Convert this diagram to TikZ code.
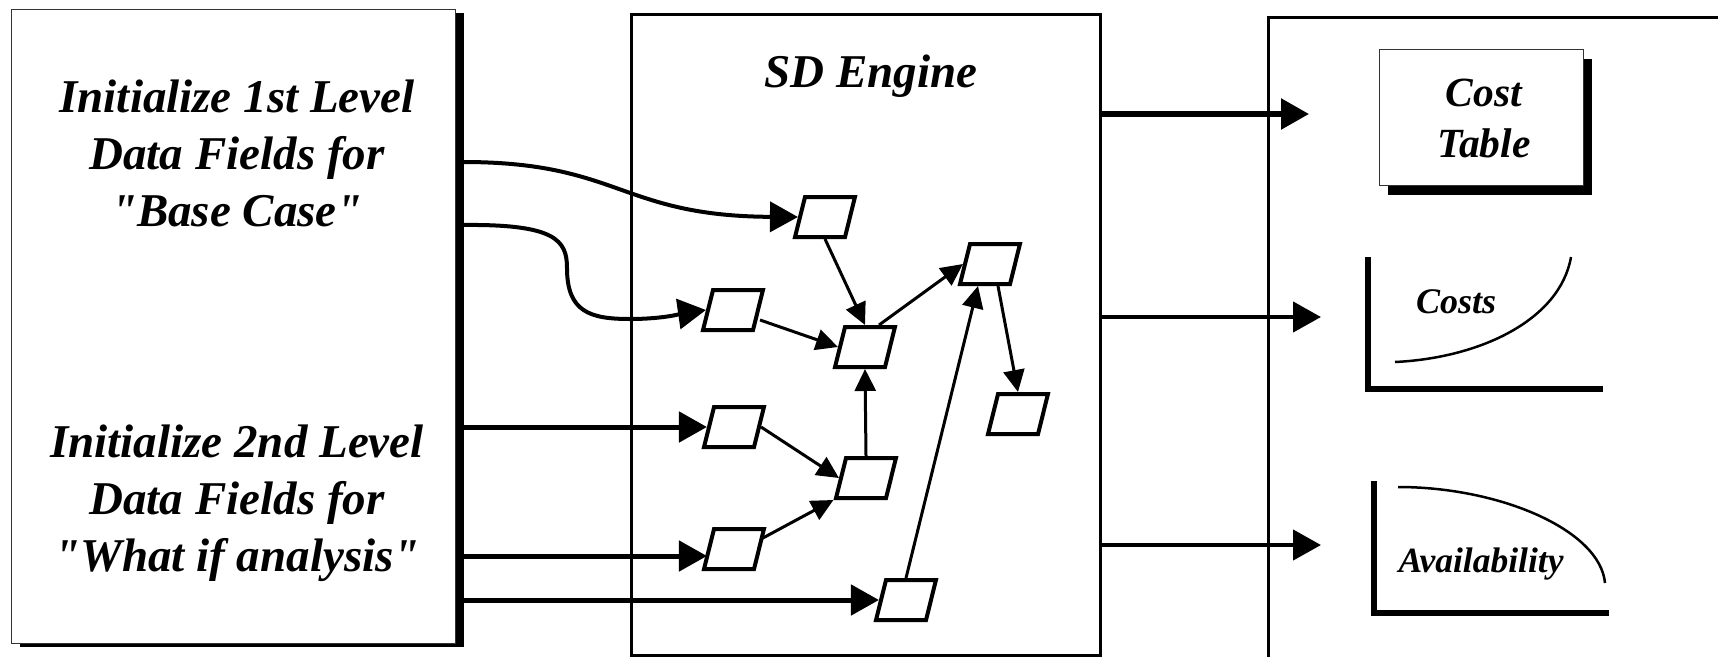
\documentclass[tikz,border=0pt]{standalone}
\usepackage{fontspec}
\setmainfont{Liberation Serif}
\newfontfamily\plainserif{Liberation Serif}
\usetikzlibrary{arrows.meta,shapes.geometric,shadows,calc}
\begin{document}
\begin{tikzpicture}[x=1pt,y=-1pt,
  lbl/.style={font=\plainserif\fontsize{47}{57}\selectfont\bfseries\itshape, align=center, inner sep=0pt},
  pg/.style={trapezium, trapezium left angle=76, trapezium right angle=104, draw, line width=4pt,
     minimum width=54pt, minimum height=40pt, inner sep=2pt, fill=white},
  inarr/.style={line width=5pt, -{Triangle[length=28pt,width=30pt]}},
  incurve/.style={line width=4pt, -{Triangle[length=28pt,width=30pt]}},
  thin/.style={line width=3pt, -{Triangle[length=22pt,width=21pt]}},
  outarr/.style={line width=4.5pt, -{Triangle[length=28pt,width=30pt]}},
  axis/.style={line width=6pt},
  chartcurve/.style={line width=2.5pt},
  framebox/.style={draw=black!80, line width=1.2pt, fill=white, inner sep=0pt}
]
\useasboundingbox (0,0) rectangle (1718,656);

% left input box
\node[framebox, minimum width=444pt, minimum height=634pt, anchor=north west,
      general shadow={fill=black, shadow xshift=8pt, shadow yshift=-3pt}] (L) at (11,9) {};
\node[lbl] (T1) at (237,153) {Initialize 1st Level\\Data Fields for\\"Base Case"};
\node[lbl] (T2) at (237,503) {Initialize 2nd Level\\Data Fields for\\"What if analysis"};

% SD engine box
\node[draw, line width=3pt, minimum width=469pt, minimum height=641pt, anchor=north west] (M) at (630,13) {};
\node[lbl, anchor=base] (SD) at (871,87) {SD Engine};

% right output box
\draw[line width=3pt] (1730,17) -- (1268,17) -- (1268,670);

% cost table
\node[framebox, minimum width=204pt, minimum height=136pt, anchor=north west,
      general shadow={fill=black, shadow xshift=8pt, shadow yshift=-9pt}] (CT) at (1379,49) {};
\node[font=\plainserif\fontsize{41.5}{51}\selectfont\bfseries\itshape, align=center, inner sep=0pt] (CTt) at (1484,118) {Cost\\Table};

% costs chart
\draw[axis] (1368,257) -- (1368,389) -- (1603,389);
\draw[chartcurve] (1395,362) .. controls (1480,358) and (1560,320) .. (1571,257);
\node[font=\plainserif\fontsize{36}{40}\selectfont\bfseries\itshape, anchor=base, inner sep=0pt] (CO) at (1456,313) {Costs};

% availability chart
\draw[axis] (1374,481) -- (1374,613) -- (1609,613);
\draw[chartcurve] (1398,487) .. controls (1500,487) and (1600,530) .. (1605,583);
\node[font=\plainserif\fontsize{35.5}{40}\selectfont\bfseries\itshape, anchor=base, inner sep=0pt] (AV) at (1481,572) {Availability};

% model elements
\node[pg] (A) at (825,217) {};
\node[pg] (B) at (990,264) {};
\node[pg] (C) at (733,310) {};
\node[pg] (D) at (865,347) {};
\node[pg] (E) at (1018,414) {};
\node[pg] (F) at (734,427) {};
\node[pg] (G) at (866,478) {};
\node[pg] (H) at (734,549) {};
\node[pg] (I) at (906,600) {};

% start / end points
\coordinate (s1) at (463,162);
\coordinate (s2) at (463,225);
\coordinate (s3) at (463,427);
\coordinate (s4) at (463,556);
\coordinate (s5) at (463,600);
\coordinate (t1) at (1309,114);
\coordinate (t2) at (1321,317);
\coordinate (t3) at (1321,545);

% inputs
\draw[incurve] (s1) .. controls (620,162) and (620,216) .. (A.west);
\draw[incurve] (s2) .. controls (555,224) and (567,240) .. (567,268)
   .. controls (567,312) and (590,319) .. (630,319)
   .. controls (665,319) and (685,313) .. (C.west);
\draw[inarr] (s3) -- (F);
\draw[inarr] (s4) -- (s4 -| H.west);
\draw[inarr] (s5) -- (I);

% internal links
\draw[thin] (A.south) -- (D.north);
\draw[thin] ([yshift=-10pt]C.east) -- (D.west);
\draw[thin] ([xshift=-8pt]D.north east) -- (B.west);
\draw[thin] (G.north) -- (D.south);
\draw[thin] (F.east) -- (G.west);
\draw[thin] ([yshift=10pt]H.east) -- (G.bottom left corner);
\draw[thin] (I.north) -- ([xshift=-12pt]B.south);
\draw[thin] ([xshift=8pt]B.south) -- (E.north);

% outputs
\draw[outarr, line width=5.5pt] (M.east |- t1) -- (t1);
\draw[outarr] (M.east |- t2) -- (t2);
\draw[outarr] (M.east |- t3) -- (t3);
\end{tikzpicture}
\end{document}
